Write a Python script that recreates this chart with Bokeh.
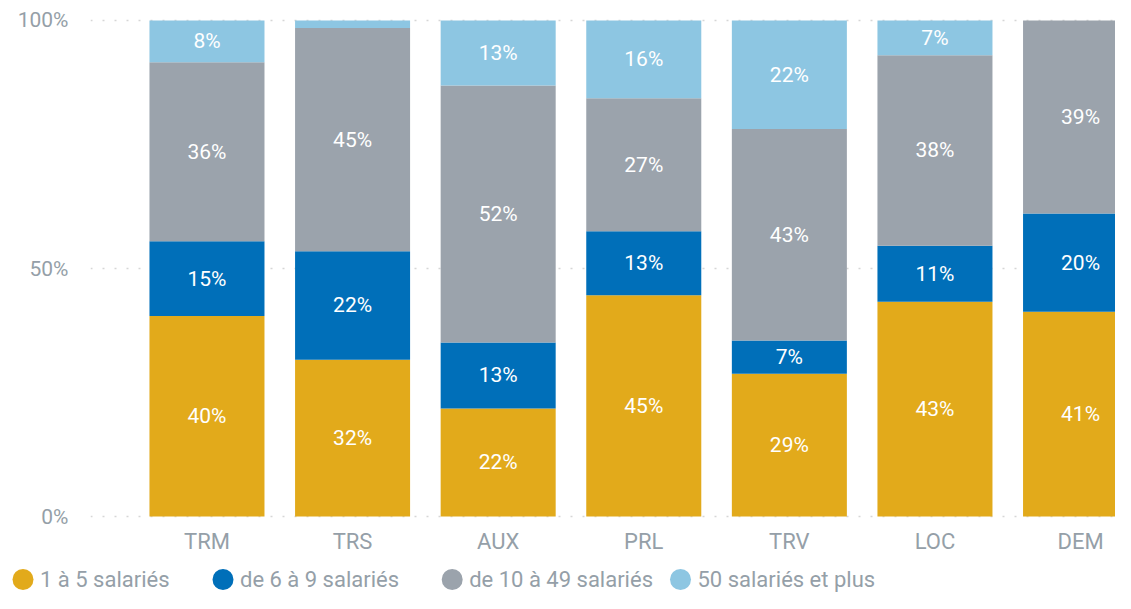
from bokeh.plotting import figure
from bokeh.layouts import column
from bokeh.models import ColumnDataSource, FixedTicker, Range1d
from bokeh.core.properties import value
from bokeh.embed import file_html
from bokeh.resources import INLINE

categories = ["TRM", "TRS", "AUX", "PRL", "TRV", "LOC", "DEM"]
series_names = ["1 à 5 salariés", "de 6 à 9 salariés", "de 10 à 49 salariés", "50 salariés et plus"]
s_1_5 = [40.4, 31.6, 21.8, 44.6, 28.8, 43.3, 41.3]
s_6_9 = [15.1, 21.9, 13.3, 12.9, 6.7, 11.3, 19.8]
s_10_49 = [36.1, 45.0, 51.8, 26.8, 42.6, 38.4, 38.9]
s_50p = [8.4, 1.5, 13.1, 15.7, 21.9, 7.0, 0.0]
colors = ["#E2AA1B", "#006FB9", "#9BA3AC", "#8DC6E2"]
y_ticks = [0, 50, 100]
y_tick_labels = ["0%", "50%", "100%"]

FONT = "Roboto"
GRAY = "#959FA8"
W = 1115
MAIN_H = 562
LEG_H = 31

series = [s_1_5, s_6_9, s_10_49, s_50p]
keys = ["s1", "s2", "s3", "s4"]
xs = list(range(len(categories)))
data = {"x": xs}
for k, s in zip(keys, series):
    data[k] = s
src = ColumnDataSource(data)

FRAME_LEFT = 90
FRAME_TOP = 18
FRAME_H = 500
p = figure(width=W, height=MAIN_H, x_range=Range1d(-0.8, 6.24), y_range=Range1d(-0.4, 100.4),
           output_backend="svg", toolbar_location=None,
           min_border_left=FRAME_LEFT, min_border_right=0, min_border_top=FRAME_TOP,
           min_border_bottom=MAIN_H - FRAME_TOP - FRAME_H)
p.frame_align = False
p.outline_line_color = None
p.background_fill_color = "white"

p.vbar_stack(keys, x="x", width=0.79, source=src, color=colors, line_color=None)

# segment labels
lx, ly, lt = [], [], []
for i in xs:
    base = 0.0
    for s in series:
        v = s[i]
        if v >= 3:
            lx.append(i)
            ly.append(base + v / 2)
            lt.append(f"{round(v)}%")
        base += v
p.text(x=lx, y=ly, text=lt, text_color="white", text_font=value(FONT), text_font_size="21px",
       text_align="center", text_baseline="middle")

# axes
p.xaxis.ticker = FixedTicker(ticks=xs)
p.xaxis.major_label_overrides = {i: c for i, c in zip(xs, categories)}
p.yaxis.ticker = FixedTicker(ticks=y_ticks)
p.yaxis.major_label_overrides = {t: l for t, l in zip(y_ticks, y_tick_labels)}
for ax in (p.xaxis, p.yaxis):
    ax.axis_line_color = None
    ax.major_tick_line_color = None
    ax.minor_tick_line_color = None
    ax.major_tick_out = 0
    ax.major_tick_in = 0
    ax.minor_tick_out = 0
    ax.major_label_text_font = FONT
    ax.major_label_text_color = GRAY
p.yaxis.major_label_text_font_size = "21px"
p.xaxis.major_label_text_font_size = "22px"
p.yaxis.major_label_standoff = 22
p.xaxis.major_label_standoff = 10

p.xgrid.grid_line_color = None
p.ygrid.ticker = FixedTicker(ticks=y_ticks)
p.ygrid.grid_line_color = "#d6d6d6"
p.ygrid.grid_line_dash = "2 10"
p.ygrid.grid_line_width = 1.5

# legend strip (pixel-unit layout figure)
legend_x = [22.5, 222.5, 451.7, 680.0]   # marker centres, px
legend_y = 14                              # px from strip bottom
lf = figure(width=W, height=LEG_H, x_range=Range1d(0, W), y_range=Range1d(0, LEG_H),
            output_backend="svg", toolbar_location=None,
            min_border=0, min_border_left=0, min_border_right=0, min_border_top=0, min_border_bottom=0)
lf.frame_align = False
lf.axis.visible = False
lf.grid.visible = False
lf.outline_line_color = None
lf.scatter(x=legend_x, y=[legend_y] * 4, marker="circle", size=21, fill_color=colors, line_color=None)
lf.text(x=[cx + 17 for cx in legend_x], y=[legend_y] * 4, text=series_names,
        text_color=GRAY, text_font=value(FONT), text_font_size="22px",
        text_align="left", text_baseline="middle")

layout = column(p, lf, spacing=0)
open("out.html", "w").write(file_html(layout, INLINE))
